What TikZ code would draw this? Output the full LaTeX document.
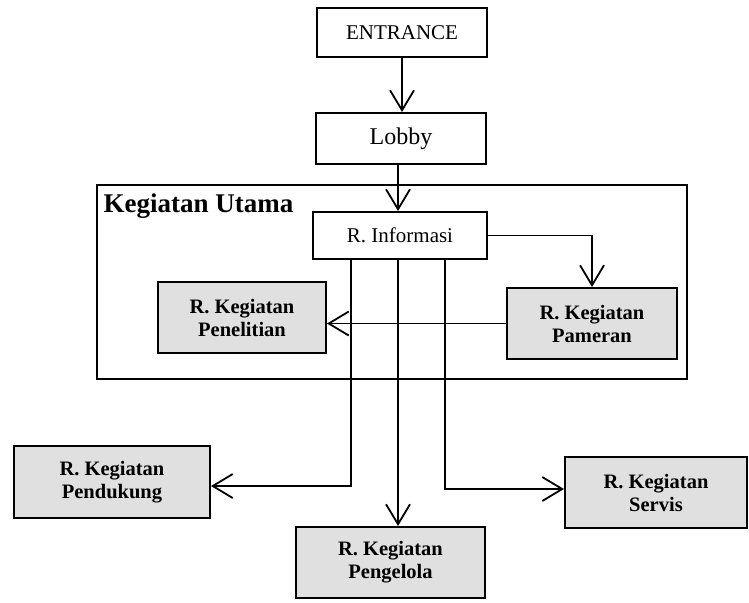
\documentclass[tikz,border=0pt]{standalone}
\usepackage{fontspec}
\setmainfont{Liberation Serif}
\usetikzlibrary{arrows.meta}
\begin{document}
\begin{tikzpicture}[x=1pt,y=-1pt,
  box/.style={draw, line width=2pt, fill=white, inner sep=0pt, align=center},
  shaded/.style={box, fill=black!12, font=\fontsize{20.5}{23}\selectfont\bfseries},
  conn/.style={line width=1.8pt, -{Straight Barb[length=20pt,width=24pt,line width=1.8pt]}},
  plain/.style={line width=1.8pt}]
\useasboundingbox (0,0) rectangle (749,602);
% containers
\node[box, minimum width=590pt, minimum height=194pt] (utama) at (392,282) {};
\node[anchor=west, font=\fontsize{27}{29}\selectfont\bfseries] (utamalbl) at (100,206) {Kegiatan Utama};
% nodes
\node[box, minimum width=170pt, minimum height=49pt, font=\fontsize{21}{23}\selectfont] (entrance) at (402,32.5) {ENTRANCE};
\node[box, minimum width=170pt, minimum height=51pt, font=\fontsize{24}{26}\selectfont] (lobby) at (401,138.5) {Lobby};
\node[box, minimum width=174pt, minimum height=47pt, font=\fontsize{21}{23}\selectfont] (info) at (400,235.5) {R. Informasi};
\node[shaded, minimum width=168pt, minimum height=71pt] (penelitian) at (242,317.5) {R. Kegiatan\\Penelitian};
\node[shaded, minimum width=170pt, minimum height=71pt] (pameran) at (592,323.5) {R. Kegiatan\\Pameran};
\node[shaded, minimum width=196pt, minimum height=72pt] (pendukung) at (112,482) {R. Kegiatan\\Pendukung};
\node[shaded, minimum width=189pt, minimum height=71pt] (pengelola) at (390.5,562.5) {R. Kegiatan\\Pengelola};
\node[shaded, minimum width=182pt, minimum height=71pt] (servis) at (656,492.5) {R. Kegiatan\\Servis};
% turning points
\coordinate (pd) at (351,486);
\coordinate (pg) at (398,300);
\coordinate (sv) at (445,489);
% connectors
\draw[conn] (entrance.south) -- (lobby.north -| entrance.south);
\draw[conn] (lobby.south -| pg) -- (info.north -| pg);
\draw[conn] (info.east) -- (pameran.north |- info.east) -- (pameran.north);
\draw[conn] (pameran.west) -- (penelitian.east |- pameran.west);
\draw[conn] (info.south -| pd) -- (pd) -- (pendukung.east |- pd);
\draw[conn] (info.south -| pg) -- (pengelola.north -| pg);
\draw[conn] (info.south -| sv) -- (sv) -- (servis.west |- sv);
\end{tikzpicture}
\end{document}
